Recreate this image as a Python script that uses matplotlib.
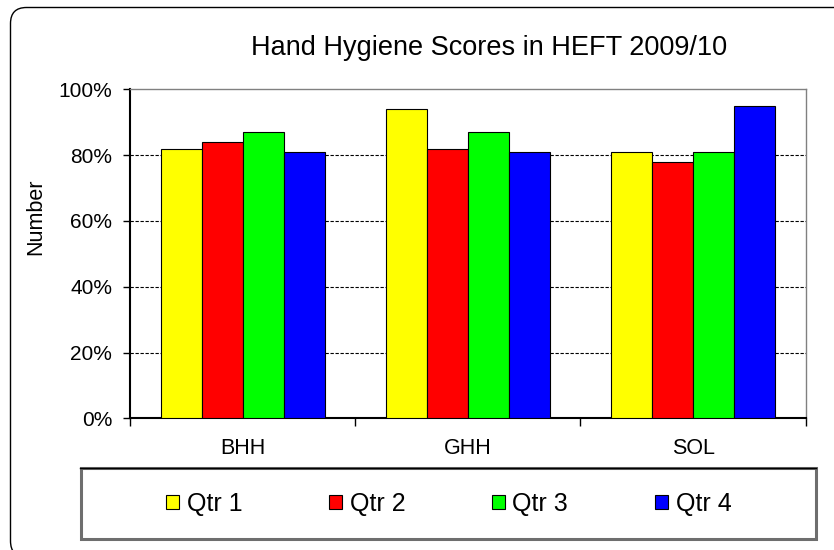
import matplotlib
matplotlib.use("Agg")
import matplotlib.pyplot as plt
from matplotlib.patches import FancyBboxPatch, Rectangle, Patch
from matplotlib.lines import Line2D
import numpy as np

plt.rcParams['font.family'] = ['Liberation Sans', 'DejaVu Sans']

categories = ["BHH", "GHH", "SOL"]
series_names = ["Qtr 1", "Qtr 2", "Qtr 3", "Qtr 4"]
qtr1 = [82, 94, 81]
qtr2 = [84, 82, 78]
qtr3 = [87, 87, 81]
qtr4 = [81, 81, 95]
series_values = [qtr1, qtr2, qtr3, qtr4]
colors = ["#FFFF00", "#FF0000", "#00FF00", "#0000FF"]
yticks = [0, 20, 40, 60, 80, 100]
ytick_labels = ["0%", "20%", "40%", "60%", "80%", "100%"]
title = "Hand Hygiene Scores in HEFT 2009/10"
ylabel = "Number"

W, H = 834, 550
fig = plt.figure(figsize=(W / 100, H / 100), dpi=100)

# outer rounded border (extends past the right and bottom edges of the image)
fig.patches.append(FancyBboxPatch((10.5, -7.0), 860, 549.5,
                                  boxstyle="round,pad=0,rounding_size=16",
                                  transform=None, fill=False, ec="black", lw=1.0))

left, right, top, bottom = 130, 805.7, 89.3, 418.3
ax = fig.add_axes([left / W, (H - bottom) / H, (right - left) / W, (bottom - top) / H])

x = np.arange(len(categories))
bw = 1 / 5.5
for i, (vals, c) in enumerate(zip(series_values, colors)):
    ax.bar(x + (i - 1.5) * bw, vals, width=bw, color=c, edgecolor="black",
           linewidth=0.8, zorder=3, label=series_names[i])

ax.set_xlim(-0.5, len(categories) - 0.5)
ax.set_ylim(0, 100)
ax.set_yticks(yticks)
ax.set_yticklabels(ytick_labels)
for yv in yticks[1:-1]:
    ax.axhline(yv, color="black", lw=0.8, dashes=(3, 1.5), zorder=1)

ax.set_xticks(np.arange(-0.5, len(categories), 1.0))
ax.set_xticklabels([])
ax.set_xticks(x, minor=True)
ax.set_xticklabels(categories, minor=True)
ax.tick_params(axis="x", which="major", length=5.5, width=1, direction="out")
ax.tick_params(axis="x", which="minor", length=0, pad=14, labelsize=15.5)
ax.tick_params(axis="y", length=4.8, width=1, direction="out", pad=8, labelsize=15)

for s in ["top", "right"]:
    ax.spines[s].set_color("#808080")
    ax.spines[s].set_linewidth(1.0)
for s in ["left", "bottom"]:
    ax.spines[s].set_color("black")
    ax.spines[s].set_linewidth(1.5)

fig.text(488.7 / W, 1 - 55 / H, title, ha="center", va="baseline", fontsize=19.5)
fig.text(36 / W, 1 - 217 / H, ylabel, ha="center", va="center", rotation=90, fontsize=15.5)

# legend box
fig.patches.append(Rectangle((81, H - 539), 735, 71, transform=None, fill=False,
                             ec="#6e6e6e", lw=2.2))
fig.lines.append(Line2D([80, 816], [H - 468.3, H - 468.3], transform=None, color="black", lw=1.0))

handles = [Patch(facecolor=c, edgecolor="black", linewidth=0.8) for c in colors]
fig.legend(handles, series_names, loc="center", bbox_to_anchor=(448.5 / W, 1 - 504 / H),
           ncol=4, frameon=False, fontsize=18, handlelength=0.52, handleheight=0.52,
           handletextpad=0.32, columnspacing=3.45, borderpad=0)

fig.savefig("out.png", dpi=100)
